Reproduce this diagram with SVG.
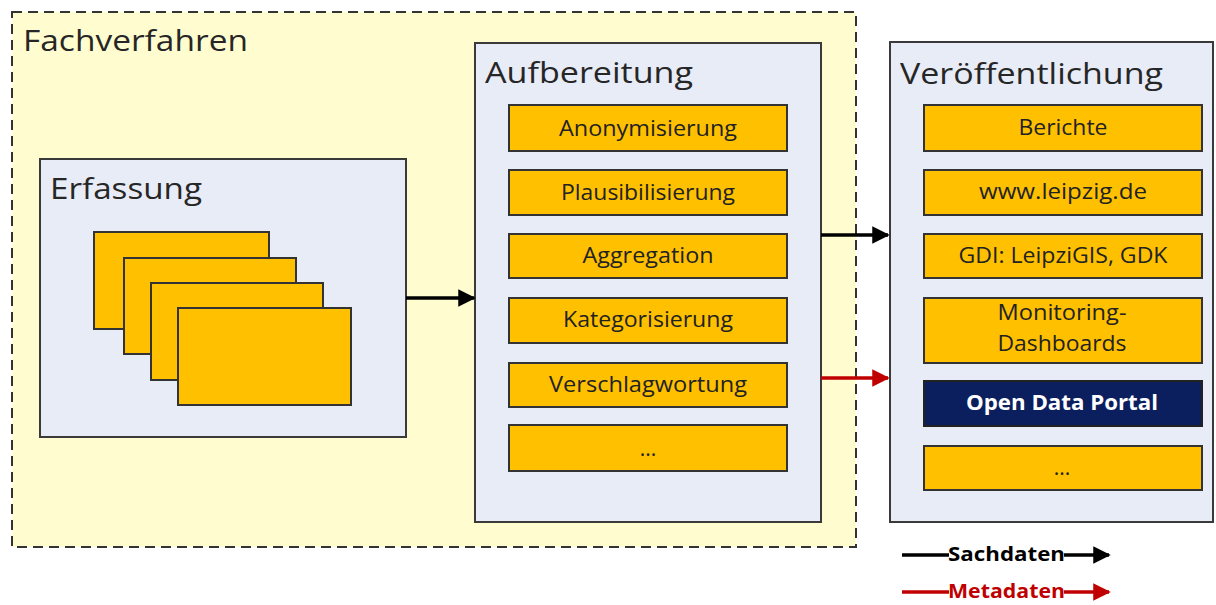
<svg xmlns="http://www.w3.org/2000/svg" width="1216" height="605" viewBox="0 0 1216 605">
<defs>
<marker id="ahB" markerWidth="5" markerHeight="5" refX="4.5" refY="2.5" orient="auto" markerUnits="strokeWidth"><path d="M0,0 L5,2.5 L0,5 z" fill="#000"/></marker>
<marker id="ahR" markerWidth="5" markerHeight="5" refX="4.5" refY="2.5" orient="auto" markerUnits="strokeWidth"><path d="M0,0 L5,2.5 L0,5 z" fill="#C00000"/></marker>
</defs>
<style>
.panel{fill:#E8ECF6;stroke:#3a3a3a;stroke-width:2}
.item{fill:#FFC000;stroke:#333;stroke-width:2}
.title{font-family:"Open Sans","Liberation Sans",sans-serif;font-size:30px;fill:#262626}
.lbl{font-family:"Open Sans","Liberation Sans",sans-serif;font-size:21px;fill:#222;text-anchor:middle}
.leg{font-family:"Open Sans","Liberation Sans",sans-serif;font-size:19px;font-weight:bold}
.blk{stroke:#000;stroke-width:3.5;fill:none}
.red{stroke:#C00000;stroke-width:3.5;fill:none}
</style>
<rect width="1216" height="605" fill="#fff"/>
<g id="fachverfahren">
<rect x="12" y="12" width="844" height="535" fill="#FFFDD0" stroke="#333" stroke-width="2" stroke-dasharray="10,6"/>
<text class="title" x="23" y="51" textLength="225" lengthAdjust="spacingAndGlyphs">Fachverfahren</text>
</g>
<g id="erfassung">
<rect class="panel" x="40" y="159" width="366" height="278"/>
<text class="title" x="50" y="199" textLength="152" lengthAdjust="spacingAndGlyphs">Erfassung</text>
<rect class="item" x="94" y="232" width="175" height="97"/>
<rect class="item" x="124" y="258" width="172" height="96"/>
<rect class="item" x="151" y="283" width="172" height="97"/>
<rect class="item" x="178" y="308" width="173" height="97"/>
</g>
<g id="aufbereitung">
<rect class="panel" x="475" y="43" width="346" height="479"/>
<text class="title" x="485" y="83" textLength="208" lengthAdjust="spacingAndGlyphs">Aufbereitung</text>
<rect class="item" x="509" y="105" width="278" height="46"/>
<text class="lbl" x="648" y="136" textLength="178" lengthAdjust="spacingAndGlyphs">Anonymisierung</text>
<rect class="item" x="509" y="170" width="278" height="45"/>
<text class="lbl" x="648" y="200" textLength="174" lengthAdjust="spacingAndGlyphs">Plausibilisierung</text>
<rect class="item" x="509" y="234" width="278" height="44"/>
<text class="lbl" x="648" y="263" textLength="131" lengthAdjust="spacingAndGlyphs">Aggregation</text>
<rect class="item" x="509" y="298" width="278" height="45"/>
<text class="lbl" x="648" y="327" textLength="170" lengthAdjust="spacingAndGlyphs">Kategorisierung</text>
<rect class="item" x="509" y="363" width="278" height="44"/>
<text class="lbl" x="648" y="392" textLength="198" lengthAdjust="spacingAndGlyphs">Verschlagwortung</text>
<rect class="item" x="509" y="425" width="278" height="46"/>
<text class="lbl" x="648" y="456">...</text>
</g>
<g id="veroeffentlichung">
<rect class="panel" x="890" y="42" width="323" height="480"/>
<text class="title" x="900" y="84" textLength="263" lengthAdjust="spacingAndGlyphs">Veröffentlichung</text>
<rect class="item" x="924" y="105" width="278" height="46"/>
<text class="lbl" x="1063" y="135" textLength="89" lengthAdjust="spacingAndGlyphs">Berichte</text>
<rect class="item" x="924" y="170" width="278" height="45"/>
<text class="lbl" x="1063" y="199" textLength="168" lengthAdjust="spacingAndGlyphs">www.leipzig.de</text>
<rect class="item" x="924" y="234" width="278" height="44"/>
<text class="lbl" x="1063" y="263" textLength="209" lengthAdjust="spacingAndGlyphs">GDI: LeipziGIS, GDK</text>
<rect class="item" x="924" y="298" width="278" height="65"/>
<text class="lbl" x="1062" y="320" textLength="129" lengthAdjust="spacingAndGlyphs">Monitoring-</text>
<text class="lbl" x="1062" y="351" textLength="129" lengthAdjust="spacingAndGlyphs">Dashboards</text>
<rect x="924" y="381" width="278" height="45" fill="#0B1F5E" stroke="#222" stroke-width="2"/>
<text class="lbl" x="1062" y="410" fill="#fff" style="fill:#fff;font-weight:bold" textLength="192" lengthAdjust="spacingAndGlyphs">Open Data Portal</text>
<rect class="item" x="924" y="446" width="278" height="44"/>
<text class="lbl" x="1062" y="475">...</text>
</g>
<g id="connectors">
<line class="blk" x1="406" y1="298" x2="474" y2="298" marker-end="url(#ahB)"/>
<line class="blk" x1="821" y1="235" x2="888" y2="235" marker-end="url(#ahB)"/>
<line class="red" x1="821" y1="378" x2="888" y2="378" marker-end="url(#ahR)"/>
</g>
<g id="legend">
<line class="blk" x1="902" y1="555" x2="949" y2="555"/>
<text class="leg" x="948" y="561" fill="#000" textLength="117" lengthAdjust="spacingAndGlyphs">Sachdaten</text>
<line class="blk" x1="1064" y1="555" x2="1109" y2="555" marker-end="url(#ahB)"/>
<line class="red" x1="902" y1="592" x2="949" y2="592"/>
<text class="leg" x="948" y="598" fill="#C00000" textLength="117" lengthAdjust="spacingAndGlyphs">Metadaten</text>
<line class="red" x1="1064" y1="592" x2="1109" y2="592" marker-end="url(#ahR)"/>
</g>
</svg>
